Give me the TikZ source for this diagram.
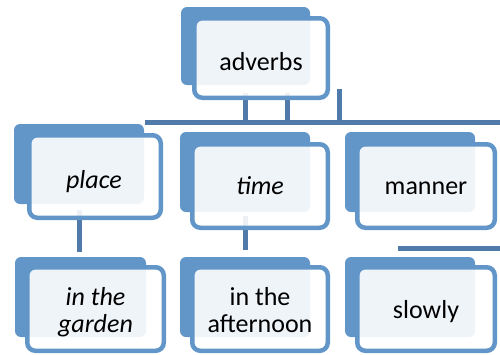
\documentclass[tikz,border=0pt]{standalone}
\usepackage{fontspec}
\setmainfont{Carlito}
\usetikzlibrary{backgrounds}
\definecolor{cardblue}{RGB}{98,150,200}
\definecolor{linkblue}{RGB}{80,122,170}
\tikzset{
  backcard/.style={shape=rectangle, fill=cardblue, rounded corners=6pt,
    inner sep=0pt, draw=none},
  frontcard/.style={shape=rectangle, draw=cardblue, line width=4.5pt,
    fill=white, fill opacity=0.9, rounded corners=8pt, inner sep=0pt},
  label/.style={inner sep=0pt, anchor=base, text=black,
    font=\fontsize{26}{27}\selectfont, align=center},
  link/.style={draw=linkblue, line width=5pt},
}
\begin{document}
\begin{tikzpicture}[x=1pt, y=-1pt]
\useasboundingbox (0,0) rectangle (500,354);

% back panels
\node[backcard, minimum width=129pt, minimum height=78pt] (advB) at (245.5,46) {};
\node[backcard, minimum width=130pt, minimum height=80pt] (plaB) at (79,164) {};
\node[backcard, minimum width=130pt, minimum height=80pt] (timB) at (245,172) {};
\node[backcard, minimum width=130pt, minimum height=80pt] (manB) at (410,172) {};
\node[backcard, minimum width=131pt, minimum height=80pt] (garB) at (80.5,297) {};
\node[backcard, minimum width=130pt, minimum height=80pt] (aftB) at (245,297) {};
\node[backcard, minimum width=130pt, minimum height=80pt] (sloB) at (410,297) {};

% front panels
\node[frontcard, minimum width=133.5pt, minimum height=79.5pt] (advF) at (261,58) {};
\node[frontcard, minimum width=131.5pt, minimum height=82.5pt] (plaF) at (95,176.5) {};
\node[frontcard, minimum width=135.5pt, minimum height=83.5pt] (timF) at (260,186) {};
\node[frontcard, minimum width=137.5pt, minimum height=83.5pt] (manF) at (426,186) {};
\node[frontcard, minimum width=136.5pt, minimum height=83.5pt] (garF) at (95.5,309) {};
\node[frontcard, minimum width=135.5pt, minimum height=83.5pt] (aftF) at (260,309) {};
\node[frontcard, minimum width=137.5pt, minimum height=83.5pt] (sloF) at (426,309) {};

% labels (two-line labels sit on the baseline of their last line)
\node[label] (advT) at (261,70) {adverbs};
\node[label] (plaT) at (94,188) {\itshape place};
\node[label] (timT) at (260,194) {\itshape time};
\node[label] (manT) at (426,194) {manner};
\node[label] (garT) at (95.5,332) {\itshape in the\\\itshape garden};
\node[label] (aftT) at (260,332) {in the\\afternoon};
\node[label] (sloT) at (426,318) {slowly};

% connectors, kept under the panels
\coordinate (busW) at (145,122.5);
\coordinate (busE) at (500,122.5);
\coordinate (adv1) at (245,93);
\coordinate (adv2) at (287,93);
\coordinate (adv3) at (339.5,89);
\coordinate (plaTop) at (79,210);
\coordinate (plaEnd) at (79,252);
\coordinate (timTop) at (245,216);
\coordinate (timEnd) at (245,250);
\coordinate (stubW) at (398,248);
\coordinate (stubE) at (500,248);
\begin{scope}[on background layer]
  \draw[link] (busW) -- (busE);
  \draw[link] (adv1) -- (adv1 |- busW);
  \draw[link] (adv2) -- (adv2 |- busW);
  \draw[link] (adv3) -- (adv3 |- busW);
  \draw[link] (plaTop) -- (plaEnd);
  \draw[link] (timTop) -- (timEnd);
  \draw[link] (stubW) -- (stubE);
\end{scope}
\end{tikzpicture}
\end{document}
